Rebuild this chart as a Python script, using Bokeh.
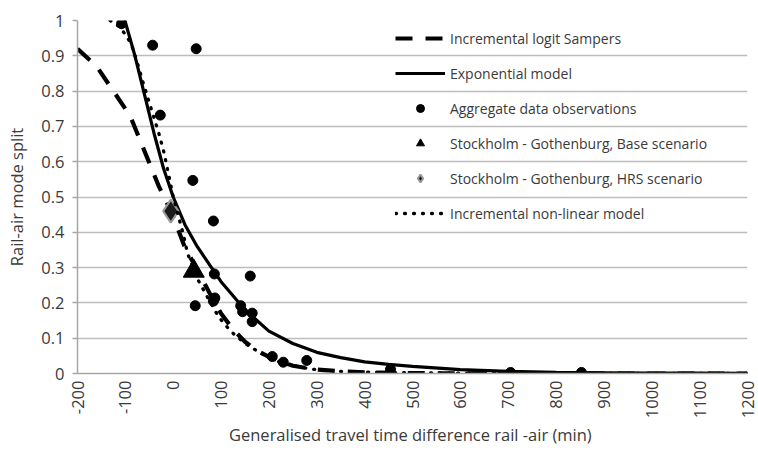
import math
from bokeh.plotting import figure
from bokeh.models import (Range1d, FixedTicker, NumeralTickFormatter, Legend, LegendItem)
from bokeh.embed import file_html
from bokeh.resources import INLINE

# ---- data ----
logit_x = [-200, -160, -125, -90, -60, -30, -5, 0, 25, 50, 75, 100, 125, 150, 175, 200, 250,
           300, 350, 400, 500, 600, 700, 800, 900, 1000, 1100, 1200]
logit_y = [0.92, 0.87, 0.80, 0.73, 0.63, 0.53, 0.46, 0.445, 0.355, 0.295, 0.23, 0.17, 0.125,
           0.09, 0.065, 0.047, 0.022, 0.011, 0.006, 0.003, 0.001, 0.0005, 0.0002, 0.0001,
           0.0, 0.0, 0.0, 0.0]

exp_x = [-101, -80, -60, -40, -20, 0, 25, 50, 75, 100, 125, 150, 175, 200, 250, 300, 350,
         400, 450, 500, 600, 700, 800, 900, 1000, 1100, 1200]
exp_y = [1.0, 0.90, 0.79, 0.68, 0.58, 0.50, 0.42, 0.36, 0.31, 0.26, 0.22, 0.18, 0.15, 0.12,
         0.085, 0.06, 0.045, 0.033, 0.026, 0.02, 0.011, 0.006, 0.003, 0.002, 0.0012, 0.0008,
         0.0005]

nonlin_x = [-132, -110, -88, -75, -62, -46, -30, -20, -9, 0, 12, 20, 30, 50, 70, 95, 120,
            150, 175, 200, 230, 290, 350, 400, 500, 600, 800, 1000, 1200]
nonlin_y = [1.0, 0.98, 0.935, 0.88, 0.82, 0.75, 0.68, 0.63, 0.56, 0.50, 0.44, 0.40, 0.34,
            0.27, 0.22, 0.16, 0.12, 0.085, 0.064, 0.045, 0.028, 0.012, 0.006, 0.004, 0.002,
            0.001, 0.0003, 0.0001, 0.0]

obs_x = [-108, -43, 48, -27, 41, 84, 86, 161, 87, 84, 46, 141, 145, 165, 165, 207, 230, 279,
         454, 705, 853]
obs_y = [0.991, 0.93, 0.92, 0.732, 0.547, 0.432, 0.282, 0.276, 0.214, 0.205, 0.192, 0.192,
         0.175, 0.171, 0.147, 0.048, 0.032, 0.037, 0.012, 0.003, 0.003]

base_x = [43]
base_y = [0.29]
hrs_x = [-5]
hrs_y = [0.46]

x_ticks = list(range(-200, 1201, 100))
y_ticks = [round(i / 10, 1) for i in range(0, 11)]

FONT = "Open Sans"
TXT = "#3a3a3a"

p = figure(width=758, height=450, output_backend="svg", toolbar_location=None,
           x_range=Range1d(-200, 1200), y_range=Range1d(0, 1),
           min_border_left=77, min_border_right=11, min_border_top=20, min_border_bottom=77)
p.outline_line_color = None
p.background_fill_color = "white"

# axes
for ax in (p.xaxis[0], p.yaxis[0]):
    ax.axis_line_color = "#a6a6a6"
    ax.axis_line_width = 1.5
    ax.major_label_text_font = FONT
    ax.major_label_text_font_size = "16.5px"
    ax.major_label_text_color = TXT
    ax.axis_label_text_font = FONT
    ax.axis_label_text_font_size = "16.5px"
    ax.axis_label_text_font_style = "normal"
    ax.axis_label_text_color = TXT
    ax.minor_tick_line_color = None

p.xaxis.ticker = FixedTicker(ticks=x_ticks)
p.xaxis.major_label_overrides = {t: str(t) for t in x_ticks}
p.xaxis.major_label_orientation = math.pi / 2
p.xaxis.major_tick_line_color = None
p.xaxis.major_tick_out = 0
p.xaxis.major_tick_in = 0
p.xaxis.major_label_standoff = 7
p.xaxis.axis_label = "Generalised travel time difference  rail -air (min)"
p.xaxis.axis_label_standoff = 2

p.yaxis.ticker = FixedTicker(ticks=y_ticks)
p.yaxis.formatter = NumeralTickFormatter(format="0.[0]")
p.yaxis.major_tick_line_color = "#a6a6a6"
p.yaxis.major_tick_line_width = 1.5
p.yaxis.major_tick_out = 5
p.yaxis.major_tick_in = 0
p.yaxis.major_label_standoff = 8
p.yaxis.axis_label = "Rail-air mode split"
p.yaxis.axis_label_standoff = 10

p.xgrid.grid_line_color = None
p.ygrid.grid_line_color = "#bdbdbd"
p.ygrid.grid_line_width = 1.5

# series
r_logit = p.line(logit_x, logit_y, line_color="black", line_width=4.2, line_dash="17 13")
r_exp = p.line(exp_x, exp_y, line_color="black", line_width=3.2)
r_obs = p.scatter(obs_x, obs_y, marker="circle", size=10, fill_color="black", line_color="black")
r_base = p.scatter(base_x, base_y, marker="triangle", size=21, fill_color="black", line_color="black")
r_hrs = p.scatter(hrs_x, hrs_y, marker="diamond", size=23,
                  fill_color="#1a1a1a", line_color="#9a9a9a", line_width=2)
r_nonlin = p.line(nonlin_x, nonlin_y, line_color="black", line_width=3.3, line_dash="1 8",
                  line_cap="round")

legend = Legend(items=[
    LegendItem(label="Incremental logit Sampers", renderers=[r_logit]),
    LegendItem(label="Exponential model", renderers=[r_exp]),
    LegendItem(label="Aggregate data observations", renderers=[r_obs]),
    LegendItem(label="Stockholm - Gothenburg, Base scenario", renderers=[r_base]),
    LegendItem(label="Stockholm - Gothenburg, HRS scenario", renderers=[r_hrs]),
    LegendItem(label="Incremental non-linear model", renderers=[r_nonlin]),
], location=(318, 150))
legend.glyph_width = 50
legend.glyph_height = 20
legend.label_height = 20
legend.spacing = 15
legend.padding = 0
legend.margin = 0
legend.label_standoff = 5
legend.border_line_color = None
legend.background_fill_alpha = 0
legend.label_text_font = FONT
legend.label_text_font_size = "14px"
legend.label_text_color = TXT
p.add_layout(legend, "center")

open("out.html", "w").write(file_html(p, INLINE))
